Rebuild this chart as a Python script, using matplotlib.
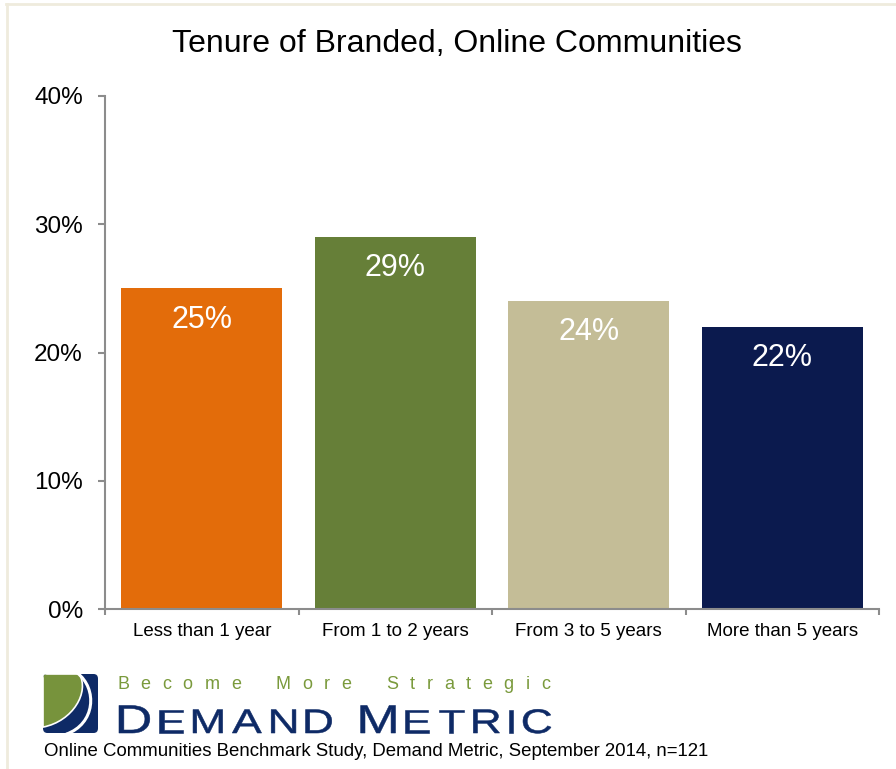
import matplotlib.pyplot as plt
from matplotlib.patches import FancyBboxPatch, PathPatch
from matplotlib.path import Path
from matplotlib.textpath import TextPath
from matplotlib.font_manager import FontProperties
from matplotlib.transforms import Affine2D
import numpy as np

plt.rcParams['font.family'] = ['Liberation Sans', 'DejaVu Sans']

categories = ['Less than 1 year', 'From 1 to 2 years', 'From 3 to 5 years', 'More than 5 years']
shares = [25, 29, 24, 22]
bar_colors = ['#E36C0A', '#667F38', '#C4BD97', '#0B1A4E']
y_ticks = [0, 10, 20, 30, 40]
title = 'Tenure of Branded, Online Communities'
tagline = 'Become More Strategic'
brand = ['DEMAND', 'METRIC']
source = 'Online Communities Benchmark Study, Demand Metric, September 2014, n=121'

W, H = 896, 769
NAVY = '#0E2A66'
fig = plt.figure(figsize=(W / 100, H / 100), dpi=100)
ax = fig.add_axes([105 / W, 1 - 609 / H, (879 - 105) / W, (609 - 96) / H])

x = np.arange(len(categories))
bars = ax.bar(x, shares, width=0.83, color=bar_colors, zorder=2)
for b, v in zip(bars, shares):
    ax.annotate(f'{v}%', (b.get_x() + b.get_width() / 2, v), xytext=(0, -22.5),
                textcoords='offset points', ha='center', va='center',
                color='white', fontsize=22)

ax.set_xlim(-0.5, len(categories) - 0.5)
ax.set_ylim(0, 40)
ax.set_yticks(y_ticks)
ax.set_yticklabels([f'{t}%' for t in y_ticks], fontsize=17.5)
ax.set_xticks(np.arange(len(categories) + 1) - 0.5)
ax.set_xticklabels([''] * (len(categories) + 1))
ax.set_xticks(x, minor=True)
ax.set_xticklabels(categories, minor=True, fontsize=13.5)
ax.tick_params(axis='x', which='minor', length=0, pad=10)
ax.tick_params(axis='x', which='major', length=4, color='#8C8C8C', width=1.5)
ax.tick_params(axis='y', length=5, color='#8C8C8C', width=1.5, pad=11)
for s in ['top', 'right']:
    ax.spines[s].set_visible(False)
for s in ['left', 'bottom']:
    ax.spines[s].set_color('#8C8C8C')
    ax.spines[s].set_linewidth(1.5)

fig.text(457 / W, 1 - 44 / H, title, ha='center', va='center', fontsize=23)

# faint frame along the top and left edges
fig.add_artist(plt.Line2D([6 / W, 1], [1 - 4 / H, 1 - 4 / H], color='#EFEBDD', lw=2))
fig.add_artist(plt.Line2D([7 / W, 7 / W], [0, 1 - 4 / H], color='#EFEBDD', lw=2))

# logo mark: navy tile with a green leaf and white swooshes
lax = fig.add_axes([43 / W, 1 - 733 / H, 55 / W, 59 / H])
lax.set_xlim(0, 1)
lax.set_ylim(0, 1)
lax.axis('off')
tile = FancyBboxPatch((0.0, 0.0), 1.0, 1.0, boxstyle='round,pad=0,rounding_size=0.08',
                      facecolor=NAVY, edgecolor='none')
lax.add_patch(tile)
C, L = Path.CURVE4, Path.LINETO
leaf = Path([(0, 1), (0.66, 1), (0.85, 0.7), (0.55, 0.2), (0.0, 0.1), (0, 1)],
            [Path.MOVETO, L, C, C, C, Path.CLOSEPOLY])
lax.add_patch(PathPatch(leaf, facecolor='#77933C', edgecolor='white', lw=1.2, clip_path=tile))
swoosh = Path([(0.62, 1.02), (1.0, 0.75), (0.95, 0.15), (0.42, -0.02)],
              [Path.MOVETO, C, C, C])
lax.add_patch(PathPatch(swoosh, facecolor='none', edgecolor='white', lw=2.2, clip_path=tile))

renderer = fig.canvas.get_renderer()


def spaced_text(pieces, x0, x1, y, color):
    # pieces: list of (text, fontsize); letters are tracked to span x0..x1 pixels
    items = []
    for s, size in pieces:
        for ch in s:
            t = fig.text(0, 1 - y / H, ch, fontsize=size, color=color, va='baseline', ha='left')
            items.append((t, ch))
    widths = [t.get_window_extent(renderer).width if ch != ' ' else 0 for t, ch in items]
    n_sp = sum(1 for _, ch in items if ch == ' ')
    gaps = len(items) - 1 + n_sp
    track = (x1 - x0 - sum(widths)) / gaps
    xpos = x0
    for (t, ch), w in zip(items, widths):
        t.set_x(xpos / W)
        xpos += w + track * (2 if ch == ' ' else 1)


spaced_text([(tagline, 13)], 117, 550, 689, '#7A9A3C')

# wordmark in wide small caps, drawn as stretched glyph outlines in pixel space
pax = fig.add_axes([0, 0, 1, 1], zorder=-1)
pax.set_xlim(0, W)
pax.set_ylim(0, H)
pax.axis('off')
fp = FontProperties(family='Liberation Sans')
stretch = 1.3
glyphs = []
for word in brand:
    glyphs.append((word[0], 40))
    glyphs += [(ch, 34) for ch in word[1:]]
    glyphs.append((' ', 34))
glyphs = glyphs[:-1]
paths = []
for ch, size in glyphs:
    if ch == ' ':
        paths.append((None, 0))
        continue
    p = TextPath((0, 0), ch, size=size, prop=fp)
    ext = p.get_extents()
    paths.append((p, ext.width * stretch, ext.x0 * stretch))
gaps = len(glyphs) - 1 + 1
total_w = sum(item[1] for item in paths)
track = (551 - 119 - total_w) / gaps
xpos = 119
for item in paths:
    if item[0] is None:
        xpos += track * 2
        continue
    p, w, x0 = item
    tr = Affine2D().scale(stretch, 1).translate(xpos - x0, H - 733)
    pax.add_patch(PathPatch(tr.transform_path(p), facecolor=NAVY, edgecolor=NAVY, lw=0.4))
    xpos += w + track

fig.text(44 / W, 1 - 756 / H, source, ha='left', va='baseline', fontsize=13.4)

fig.savefig('out.png', dpi=100)
